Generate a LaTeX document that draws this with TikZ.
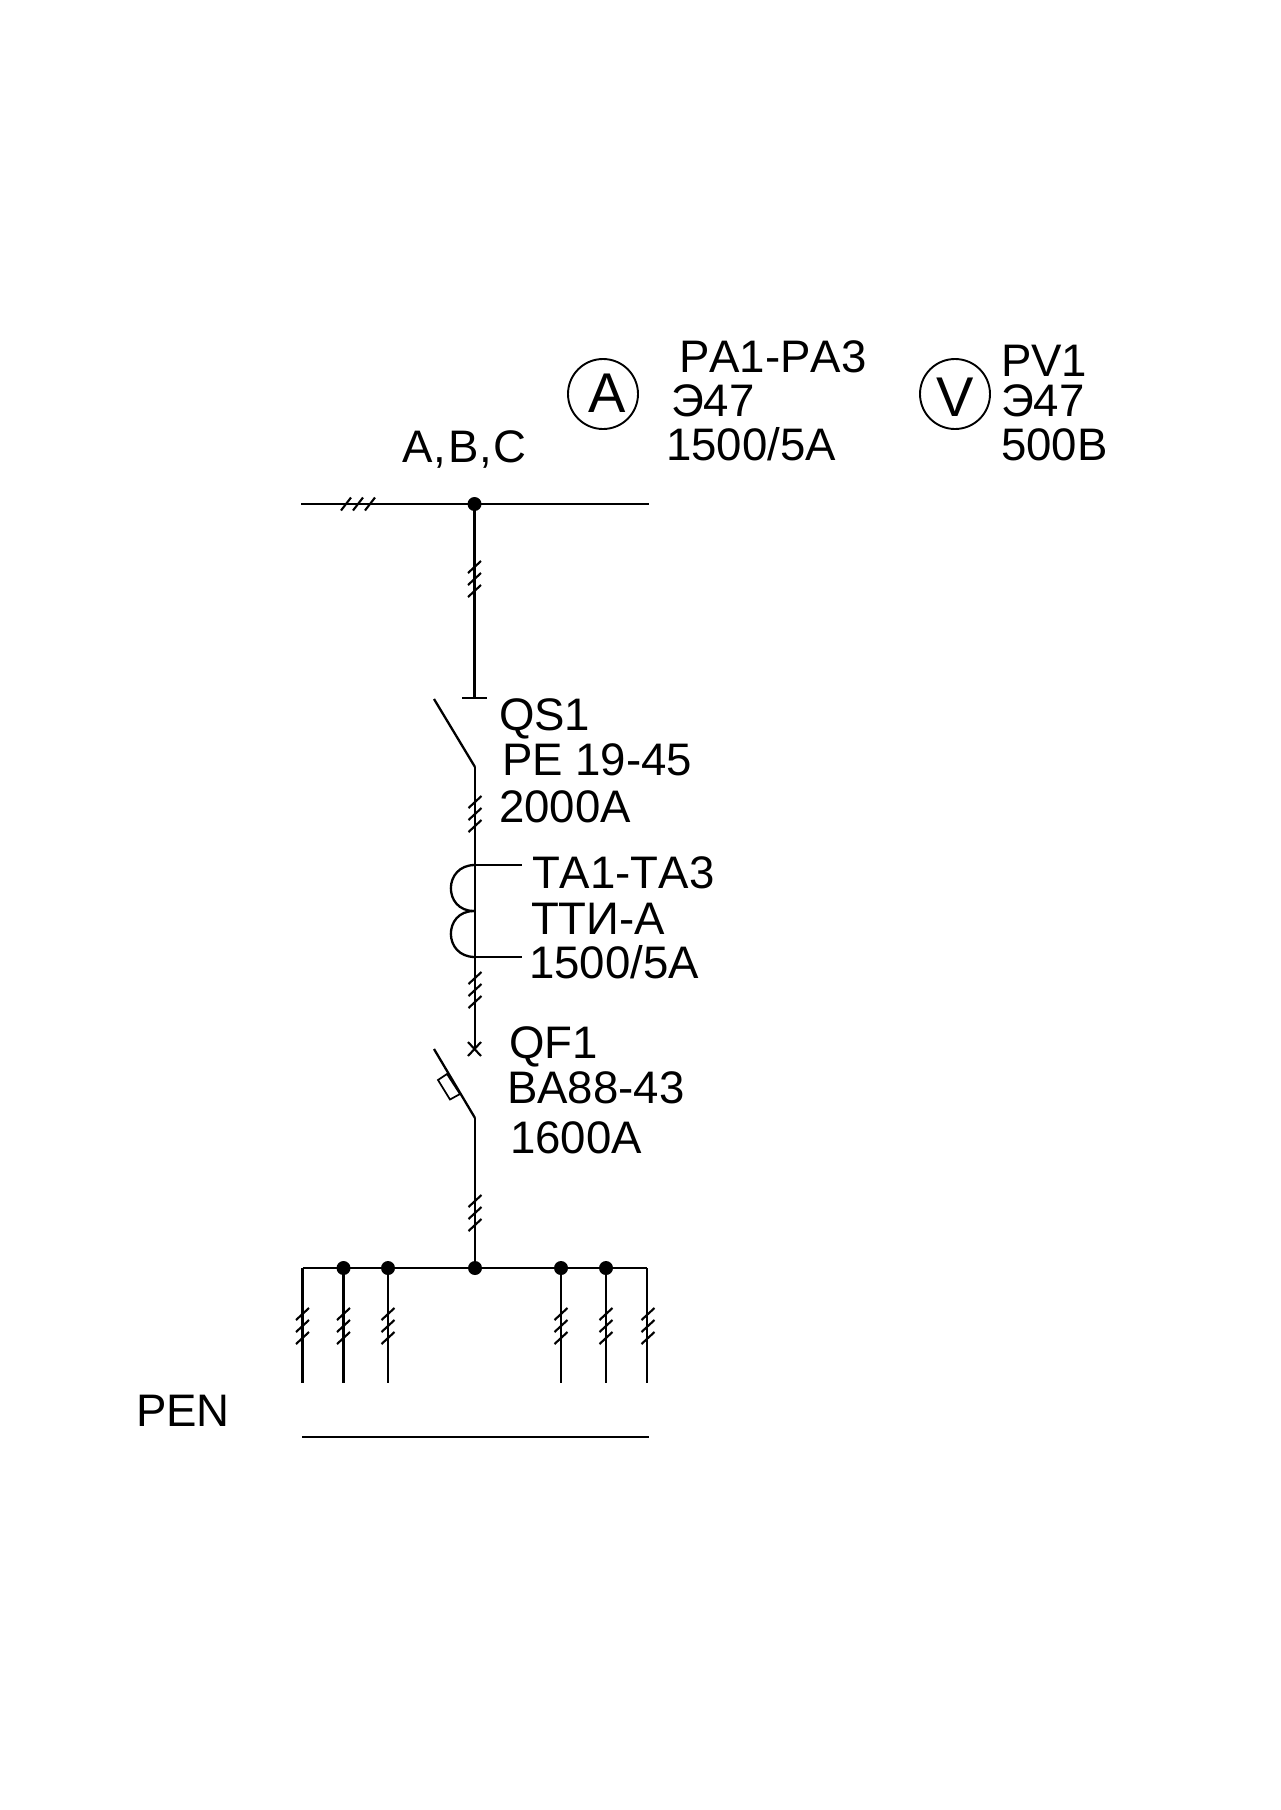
\documentclass[tikz,border=0pt]{standalone}
\usepackage{fontspec}
\setmainfont[Kerning=Off]{Liberation Sans}
\begin{document}
\begin{tikzpicture}[x=1pt,y=-1pt,
  wire/.style={line width=2.3pt,black},
  thin wire/.style={line width=2.1pt,black},
  lbl/.style={anchor=base west,inner sep=0pt,outer sep=0pt,font=\fontsize{45.6pt}{50pt}\selectfont},
  meterletter/.style={anchor=base,inner sep=0pt,outer sep=0pt,font=\fontsize{56pt}{60pt}\selectfont},
  meter/.style={draw=black,line width=1.9pt,circle,minimum size=70pt,inner sep=0pt},
  junction/.style={circle,fill=black,inner sep=0pt,minimum size=14pt}]
\useasboundingbox[fill=white] (0,0) rectangle (1280,1810);
% ticks
\newcommand\ticksV[2]{\foreach \dy in {-12,0,12}{\draw[thin wire] (#1-6.5,#2+\dy+6) -- (#1+6.5,#2+\dy-6);}}
\newcommand\ticksH[2]{\foreach \dx in {-12,0,12}{\draw[thin wire] (#1+\dx-5,#2+6.5) -- (#1+\dx+5,#2-6.5);}}
% meters
\node[meter] (mA) at (603,394) {};
\node[meter] (mV) at (955,394) {};
\node[meterletter] (tA) at (607.5,412) {A};
\node[meterletter] (tV) at (955,416) {V};
% labels
\node[lbl] (l1) at (679,372) {PA1-PA3};
\node[lbl] (l2) at (671,416) {Э47};
\node[lbl] (l3) at (666,460) {1500/5А};
\node[lbl] (l4) at (402,462) {A\kern1.5pt,\kern1.5pt B\kern1pt,\kern1pt C};
\node[lbl] (l5) at (1001,376) {PV1};
\node[lbl] (l6) at (1001,416) {Э47};
\node[lbl] (l7) at (1001,460) {500В};
\node[lbl] (l8) at (499,730) {QS1};
\node[lbl] (l9) at (502,775) {РЕ 19-45};
\node[lbl] (l10) at (499,822) {2000А};
\node[lbl] (l11) at (532,888) {TA1-TA3};
\node[lbl] (l12) at (531,934) {ТТИ-А};
\node[lbl] (l13) at (529,978) {1500/5А};
\node[lbl] (l14) at (509,1058) {QF1};
\node[lbl] (l15) at (507,1103) {ВА88-43};
\node[lbl] (l16) at (510,1153) {1600А};
\node[lbl] (l17) at (136,1426) {PEN};
% upper bus
\coordinate (busL) at (301,504);
\coordinate (busR) at (649,504);
\node[junction] (j0) at (474.5,504) {};
\draw[wire] (busL) -- (busR);
\ticksH{358}{504}
% drop and isolator
\coordinate (qsT) at (474.5,698);
\coordinate (qsL) at (462,698);
\coordinate (qsR) at (487,698);
\draw[wire] (j0) -- (qsT);
\draw[wire] (qsL) -- (qsR);
\ticksV{474.5}{579}
\coordinate (qsB) at (475,767);
\coordinate (qsA) at (434,699);
\draw[wire] (qsA) -- (qsB);
% main line
\coordinate (x0) at (475,1049);
\draw[wire] (qsB) -- (x0);
\ticksV{475}{814}
\ticksV{475}{990}
% current transformer
\coordinate (c1) at (475,865);
\coordinate (c2) at (474,911);
\coordinate (c3) at (475,957);
\coordinate (ta1) at (522,865);
\coordinate (ta2) at (522,957);
\draw[wire] (c1) .. controls (443,865) and (443,911) .. (c2);
\draw[wire] (c2) .. controls (443,911) and (443,957) .. (c3);
\draw[wire] (c1) -- (ta1);
\draw[wire] (c3) -- (ta2);
% breaker
\draw[thin wire] (468,1042) -- (481,1056);
\draw[thin wire] (468,1056) -- (481,1042);
\coordinate (qfB) at (475,1118);
\coordinate (qfA) at (434,1049);
\draw[wire] (qfA) -- (qfB);
\draw[line width=1.7pt] (438,1080) -- (447,1074) -- (460,1094) -- (450,1099.5) -- cycle;
% lower bus
\node[junction] (j1) at (475,1268) {};
\draw[wire] (qfB) -- (j1);
\ticksV{475}{1213}
\coordinate (bL) at (302.5,1268);
\coordinate (bR) at (647,1268);
\node[junction] (j2) at (343.5,1268) {};
\node[junction] (j3) at (388,1268) {};
\node[junction] (j4) at (561,1268) {};
\node[junction] (j5) at (606,1268) {};
\draw[wire] (bL) -- (bR);
\coordinate (d0) at (302.5,1383);
\coordinate (d2) at (343.5,1383);
\coordinate (d3) at (388,1383);
\coordinate (d4) at (561,1383);
\coordinate (d5) at (606,1383);
\coordinate (d6) at (647,1383);
\draw[wire] (bL) -- (d0);
\draw[wire] (j2) -- (d2);
\draw[wire] (j3) -- (d3);
\draw[wire] (j4) -- (d4);
\draw[wire] (j5) -- (d5);
\draw[wire] (bR) -- (d6);
\ticksV{302.5}{1326}
\ticksV{343.5}{1326}
\ticksV{388}{1326}
\ticksV{561}{1326}
\ticksV{606}{1326}
\ticksV{648}{1326}
% PEN
\coordinate (pL) at (302,1437);
\coordinate (pR) at (649,1437);
\draw[wire] (pL) -- (pR);
\end{tikzpicture}
\end{document}
